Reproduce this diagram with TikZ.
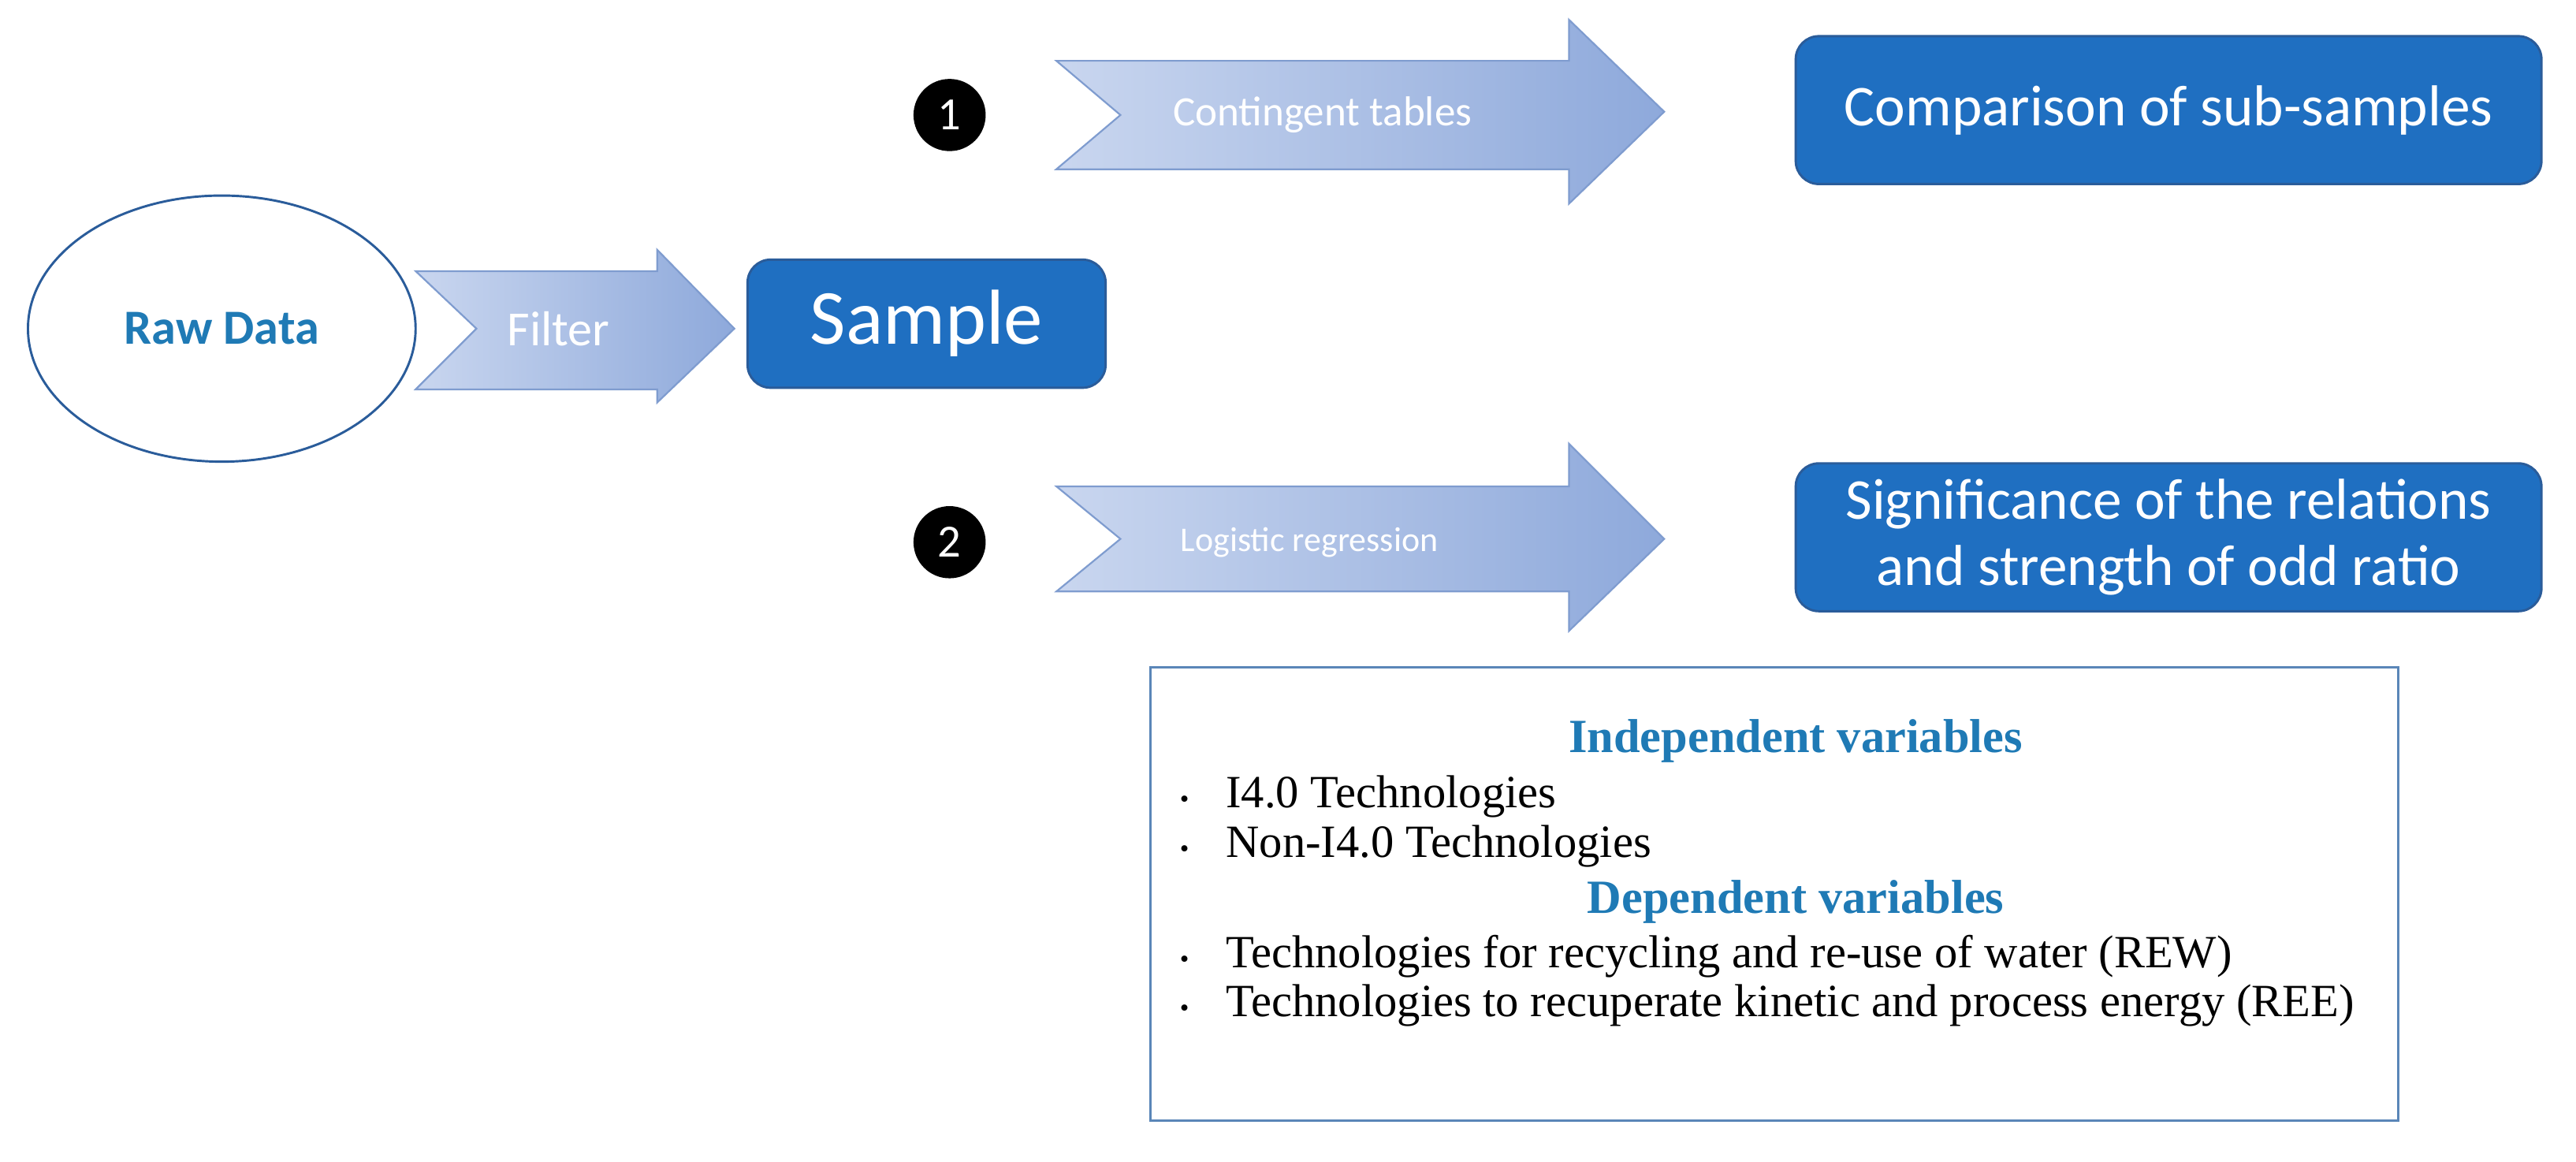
\documentclass[tikz,border=0pt]{standalone}
\usepackage{fontspec}
\setmainfont{Liberation Serif}
\newfontfamily\calfont{Carlito}
\usetikzlibrary{shapes.geometric}
\definecolor{boxblue}{HTML}{1F6FC1}
\definecolor{boxedge}{HTML}{2A5C9A}
\definecolor{arrL}{HTML}{C9D6EF}
\definecolor{arrR}{HTML}{8EA9DB}
\definecolor{arredge}{HTML}{7F9CCF}
\definecolor{ttl}{HTML}{1F7AB5}
\definecolor{frame}{HTML}{5A86B8}
\begin{document}
\begin{tikzpicture}[x=0.02cm,y=-0.02cm,
  blue box/.style={draw=boxedge,line width=0.8pt,fill=boxblue,rounded corners=8pt,text=white,font=\calfont,align=center},
  chev/.style={draw=arredge,line width=0.6pt,left color=arrL,right color=arrR},
  num/.style={circle,fill=black,text=white,minimum size=25pt,inner sep=0pt,font=\calfont\fontsize{16}{16}\selectfont},
  lbl/.style={text=white},
  bul/.style={anchor=west,font=\fontsize{16}{18}\selectfont}]
\useasboundingbox (0,0) rectangle (1568,707);
% raw data
\node[ellipse,draw=boxedge,line width=0.8pt,minimum width=4.72cm,minimum height=3.24cm,text=ttl,font=\calfont\bfseries\fontsize{17}{17}\selectfont] (raw) at (135,200) {Raw Data};
% filter arrow
\draw[chev] (253,165) -- (400,165) -- (400,152) -- (447,200) -- (400,245) -- (400,237) -- (253,237) -- (290,200) -- cycle;
\node[lbl,font=\calfont\fontsize{17}{17}\selectfont] (flt) at (340,200) {Filter};
\node[blue box,minimum width=4.36cm,minimum height=1.56cm,font=\calfont\fontsize{27}{27}\selectfont] (sample) at (564,197) {Sample};
% row 1
\node[num] (n1) at (578,70) {1};
\draw[chev] (643,37) -- (955,37) -- (955,12) -- (1013,68) -- (955,124) -- (955,103) -- (643,103) -- (682,70) -- cycle;
\node[lbl,font=\calfont\fontsize{14.5}{14.5}\selectfont] (ct) at (805,70) {Contingent tables};
\node[blue box,minimum width=9.08cm,minimum height=1.8cm,font=\calfont\fontsize{20}{24}\selectfont] (cmp) at (1320,67) {Comparison of sub-samples};
% row 2
\node[num] (n2) at (578,330) {2};
\draw[chev] (643,296) -- (955,296) -- (955,270) -- (1013,328) -- (955,384) -- (955,360) -- (643,360) -- (682,328) -- cycle;
\node[lbl,font=\calfont\fontsize{12}{12}\selectfont] (lr) at (797,330) {Logistic regression};
\node[blue box,minimum width=9.08cm,minimum height=1.8cm,font=\calfont\fontsize{20}{23}\selectfont] (sig) at (1320,327) {Significance of the relations\\and strength of odd ratio};
% variables box
\node[draw=frame,line width=0.8pt,minimum width=15.2cm,minimum height=5.52cm] (vb) at (1080,544) {};
\node[text=ttl,font=\bfseries\fontsize{16.5}{17}\selectfont] (iv) at (1093,451) {Independent variables};
\node[bul] (b1) at (712,485) {\makebox[16pt][l]{\small\textbullet}I4.0 Technologies};
\node[bul] (b2) at (712,515) {\makebox[16pt][l]{\small\textbullet}Non-I4.0 Technologies};
\node[text=ttl,font=\bfseries\fontsize{16.5}{17}\selectfont] (dv) at (1093,549) {Dependent variables};
\node[bul] (b3) at (712,582) {\makebox[16pt][l]{\small\textbullet}Technologies for recycling and re-use of water (REW)};
\node[bul] (b4) at (712,612) {\makebox[16pt][l]{\small\textbullet}Technologies to recuperate kinetic and process energy (REE)};
\end{tikzpicture}
\end{document}
